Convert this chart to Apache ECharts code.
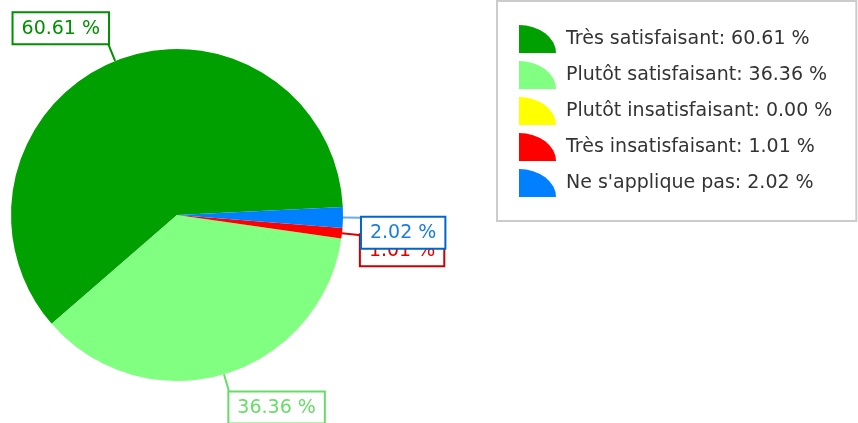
<!DOCTYPE html>
<html>
<head>
<meta charset="utf-8">
<script src="https://cdn.jsdelivr.net/npm/echarts@6/dist/echarts.min.js"></script>
<style>
html, body { margin: 0; padding: 0; background: #fff; }
#chart { width: 858px; height: 423px; }
</style>
</head>
<body>
<div id="chart"></div>
<script>
// answers (counts out of 99)
var categories = ["Très satisfaisant", "Plutôt satisfaisant", "Plutôt insatisfaisant", "Très insatisfaisant", "Ne s'applique pas"];
var counts = [60, 36, 0, 1, 2];
var sliceColors = ["#00a000", "#80ff80", "#ffff00", "#ff0000", "#0080ff"];
var labelColors = ["#009000", "#66dd66", "#cccc00", "#dd0000", "#1a7de0"];
var borderColors = ["#009000", "#66dd66", "#cccc00", "#cc0000", "#0066cc"];
var lineColors = ["#009000", "#66dd66", "#cccc00", "#dd0000", "#66aaff"];

var total = counts.reduce(function (a, b) { return a + b; }, 0);
function pct(v) { return (v / total * 100).toFixed(2) + " %"; }

var pieData = [];
for (var i = 0; i < categories.length; i++) {
    var item = {
        name: categories[i],
        value: counts[i],
        itemStyle: { color: sliceColors[i] },
        label: { color: labelColors[i], borderColor: borderColors[i] },
        labelLine: { lineStyle: { color: lineColors[i] } }
    };
    if (counts[i] == 0) {
        item.label = { show: false };
        item.labelLine = { show: false };
    }
    pieData.push(item);
}

var chart = echarts.init(document.getElementById("chart"));

var option = {
    animation: false,
    textStyle: { fontFamily: "DejaVu Sans" },
    legend: {
        orient: "vertical",
        left: 497,
        top: 1,
        padding: [24, 24, 24, 22],
        borderColor: "#cccccc",
        borderWidth: 2,
        itemWidth: 37,
        itemHeight: 28,
        itemGap: 8,
        icon: "path://M0,0 A10,10 0 0 1 10,10 L0,10 Z",
        symbolKeepAspect: false,
        textStyle: { fontSize: 19, color: "#333333", padding: [0, 0, 0, 5] },
        data: categories,
        formatter: function (name) {
            var idx = categories.indexOf(name);
            return name + ": " + pct(counts[idx]);
        }
    },
    series: [{
        type: "pie",
        center: [177, 215],
        radius: 166,
        startAngle: 2.8,
        clockwise: false,
        avoidLabelOverlap: false,
        stillShowZeroSum: false,
        itemStyle: { borderWidth: 0 },
        label: {
            show: true,
            position: "outside",
            distanceToLabelLine: 0,
            fontSize: 19,
            fontFamily: "DejaVu Sans",
            backgroundColor: "#ffffff",
            borderWidth: 2,
            padding: [6, 8, 5, 8],
            formatter: function (p) { return pct(p.value); }
        },
        labelLine: {
            show: true,
            length: 19,
            length2: 0,
            lineStyle: { width: 2 }
        },
        labelLayout: function (params) {
            var pts = params.labelLinePoints;
            var up = pts && pts[pts.length - 1][1] < pts[0][1];
            return { hideOverlap: false, verticalAlign: up ? "bottom" : "top" };
        },
        data: pieData
    }]
};

chart.setOption(option);
</script>
</body>
</html>
